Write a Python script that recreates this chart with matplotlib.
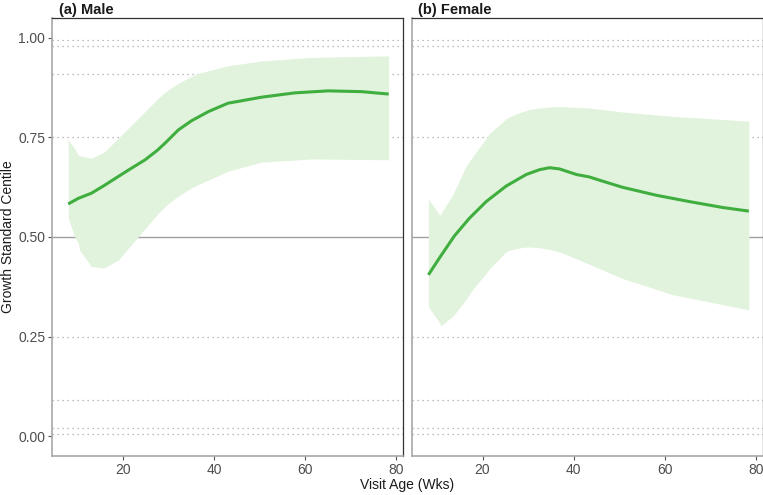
import matplotlib
matplotlib.use("Agg")
import matplotlib.pyplot as plt
import numpy as np

plt.rcParams['font.family'] = ['Liberation Sans', 'DejaVu Sans']

# ---- data ----
male_x = [8, 10.2, 13.1, 16.0, 19.0, 21.5, 24.9, 27.5, 29.3, 32.2, 35.1, 38.8, 43.1, 50.4, 57.8, 65.1, 72.5, 78.4]
male_mid = [0.583, 0.597, 0.610, 0.630, 0.652, 0.670, 0.694, 0.717, 0.736, 0.769, 0.792, 0.815, 0.836, 0.851, 0.862, 0.867, 0.865, 0.859]
male_x_band = [8, 9.4, 10.2, 10.5, 13.1, 15.7, 16.0, 19.0, 23.4, 27.8, 30.0, 32.2, 35.0, 36.6, 43.1, 50.4, 61.5, 78.4]
male_hi = [0.744, 0.722, 0.706, 0.704, 0.698, 0.712, 0.715, 0.748, 0.798, 0.849, 0.870, 0.886, 0.903, 0.911, 0.930, 0.942, 0.951, 0.955]
male_lo = [0.548, 0.501, 0.485, 0.467, 0.426, 0.422, 0.423, 0.442, 0.501, 0.560, 0.584, 0.603, 0.623, 0.632, 0.665, 0.688, 0.696, 0.694]

fem_x = [8.1, 10.8, 13.8, 17.1, 20.8, 25.2, 29.6, 32.5, 34.7, 36.9, 40.6, 43.4, 45.6, 50.7, 58.1, 65.4, 72.8, 78.5]
fem_mid = [0.405, 0.452, 0.5025, 0.547, 0.589, 0.628, 0.657, 0.669, 0.674, 0.671, 0.657, 0.651, 0.643, 0.625, 0.605, 0.589, 0.574, 0.565]
fem_x_band = [8.1, 10.6, 10.8, 13.4, 14.1, 16.3, 17.8, 20.8, 21.5, 25.2, 25.9, 28.8, 30.3, 32.5, 35.5, 37.7, 43.4, 50.7, 61.8, 78.5]
fem_hi = [0.595, 0.555, 0.558, 0.605, 0.622, 0.676, 0.701, 0.748, 0.760, 0.797, 0.802, 0.815, 0.820, 0.824, 0.827, 0.827, 0.824, 0.814, 0.803, 0.791]
fem_lo = [0.325, 0.284, 0.277, 0.300, 0.310, 0.342, 0.368, 0.409, 0.420, 0.463, 0.467, 0.474, 0.475, 0.473, 0.467, 0.459, 0.432, 0.396, 0.355, 0.317]

panel_titles = ["(a) Male", "(b) Female"]
dotted_centiles = [0.004, 0.02, 0.09, 0.25, 0.75, 0.91, 0.98, 0.996]
median_centile = 0.5
y_ticks = [0.0, 0.25, 0.5, 0.75, 1.0]
y_tick_labels = ["0.00", "0.25", "0.50", "0.75", "1.00"]
x_ticks = [20, 40, 60, 80]

line_col = '#3fae3f'
band_col = '#e1f3dc'

W, H = 763, 495
fig = plt.figure(figsize=(W / 100, H / 100), dpi=100)

panels = [
    (52.3, male_x, male_mid, male_x_band, male_hi, male_lo),
    (412.0, fem_x, fem_mid, fem_x_band, fem_hi, fem_lo),
]
top_px, bot_px, wid_px = 18, 456, 350.5

for i, (lpx, x, mid, xb, hi, lo) in enumerate(panels):
    ax = fig.add_axes([lpx / W, (H - bot_px) / H, wid_px / W, (bot_px - top_px) / H])
    ax.set_xlim(4.5, 81.5)
    ax.set_ylim(-0.05, 1.05)
    for c in dotted_centiles:
        ax.axhline(c, color='#a6a6a6', lw=0.9, ls=(0, (1, 3)), zorder=1)
    ax.axhline(median_centile, color='#a0a0a0', lw=1.0, zorder=1)
    ax.fill_between(xb, lo, hi, color=band_col, lw=0, zorder=2)
    ax.plot(x, mid, color=line_col, lw=2.2, zorder=3, solid_capstyle='butt')

    ax.set_xticks(x_ticks)
    ax.set_xticklabels([str(t) for t in x_ticks])
    ax.set_yticks(y_ticks)
    if i == 0:
        ax.set_yticklabels(y_tick_labels)
    else:
        ax.tick_params(axis='y', left=False, labelleft=False)
    ax.tick_params(axis='both', length=3, width=0.8, color='#555555',
                   labelcolor='#4d4d4d', labelsize=10, pad=2)
    for s in ['top', 'right']:
        ax.spines[s].set_color('#333333')
        ax.spines[s].set_linewidth(0.9)
    for s in ['left', 'bottom']:
        ax.spines[s].set_color('#a8a8a8')
        ax.spines[s].set_linewidth(1.2)
    ax.set_title(panel_titles[i], loc='left', fontweight='bold', fontsize=10.5,
                 color='#1a1a1a', pad=3, x=0.018)

fig.text(8 / W, 1 - 237 / H, "Growth Standard Centile", rotation=90,
         ha='center', va='center', fontsize=10, color='#1a1a1a')
fig.text(407 / W, 1 - 485 / H, "Visit Age (Wks)", ha='center', va='center',
         fontsize=10, color='#1a1a1a')

fig.savefig("out.png", dpi=100)
